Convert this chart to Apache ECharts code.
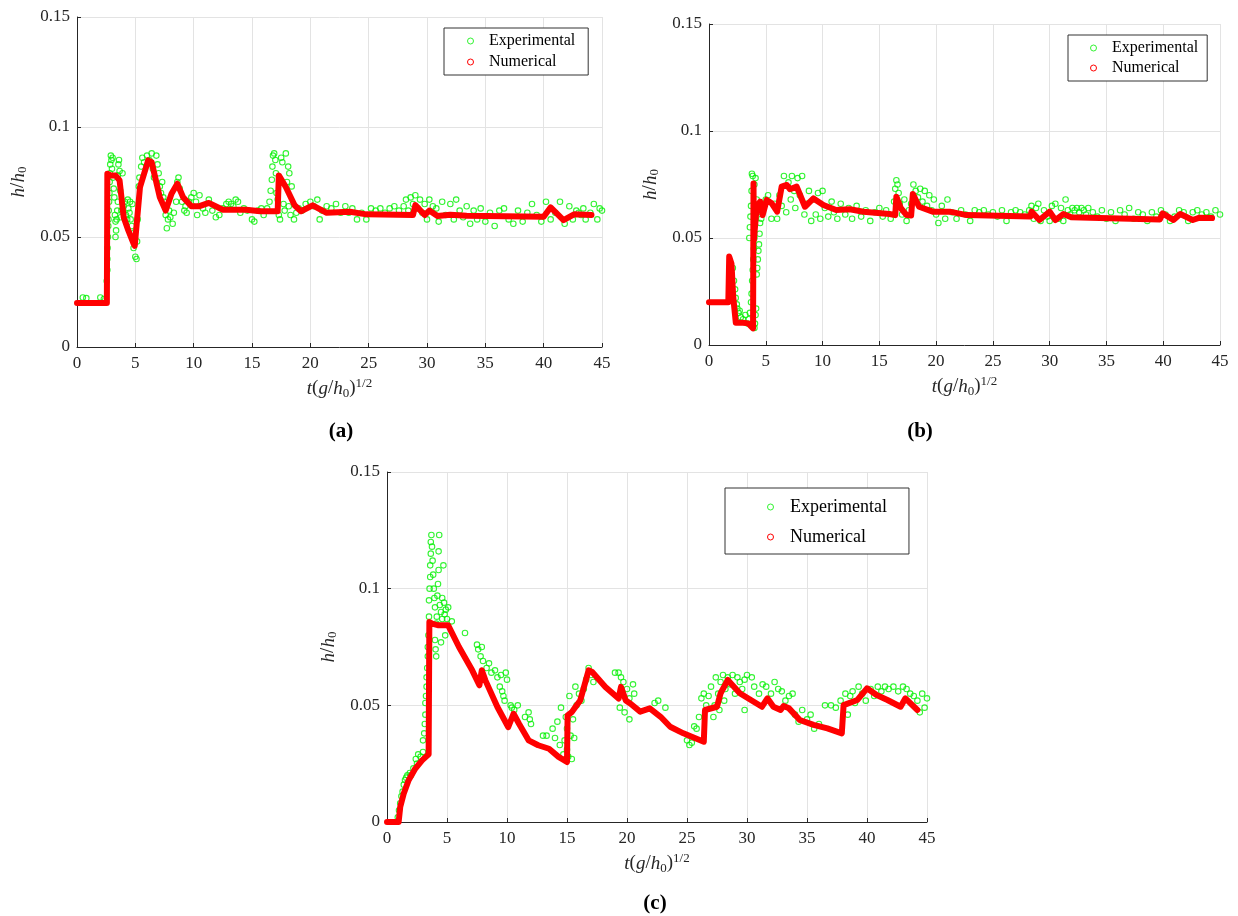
<!DOCTYPE html>
<html>
<head>
<meta charset="utf-8">
<script src="https://cdn.jsdelivr.net/npm/echarts@6/dist/echarts.min.js"></script>
<style>
  html, body { margin: 0; padding: 0; background: #fff; }
  #container { width: 1238px; height: 916px; }
</style>
</head>
<body>
<div id="container"></div>
<script>
// ---- data ----
var xTicks = [0, 5, 10, 15, 20, 25, 30, 35, 40, 45];
var yTicks = [0, 0.05, 0.1, 0.15];
var legendNames = ['Experimental', 'Numerical'];
var captions = ['(a)', '(b)', '(c)'];

// (a) numerical curve
var numA = [
  [0, 0.02], [2.56, 0.02], [2.6, 0.0788], [2.85, 0.078], [3.3, 0.078], [3.65, 0.0757],
  [4.0, 0.059], [4.4, 0.053], [4.85, 0.047], [4.95, 0.046], [5.4, 0.0727], [6.1, 0.0848],
  [6.4, 0.084], [7.1, 0.068], [7.6, 0.062], [8.1, 0.0697], [8.6, 0.0742], [9.1, 0.068],
  [9.8, 0.064], [10.5, 0.064], [11.3, 0.0655], [12.5, 0.0624], [14.5, 0.0624], [15.7, 0.0617],
  [17.2, 0.0617], [17.3, 0.078], [17.9, 0.0727], [18.65, 0.0644], [19.2, 0.0617], [20.2, 0.0644],
  [21.4, 0.061], [23.4, 0.0615], [24.8, 0.0603], [28.8, 0.06], [29.0, 0.0645], [29.8, 0.06],
  [30.2, 0.062], [30.9, 0.0595], [32.0, 0.0601], [33.4, 0.0597], [40.0, 0.0592], [40.6, 0.0635],
  [41.7, 0.0577], [42.6, 0.0603], [44.1, 0.06]
];
// (a) experimental points
var expA = [
  [0.5, 0.0225], [0.8, 0.0222], [2.0, 0.0225], [2.3, 0.0218],
  [2.55, 0.030], [2.6, 0.035], [2.6, 0.040], [2.62, 0.045], [2.65, 0.050], [2.68, 0.055], [2.7, 0.058],
  [2.72, 0.062], [2.75, 0.066], [2.78, 0.070], [2.8, 0.075], [2.82, 0.079], [2.85, 0.083], [2.9, 0.087],
  [2.95, 0.085], [3.0, 0.081], [3.05, 0.086], [3.1, 0.077], [3.15, 0.072], [3.2, 0.068], [3.25, 0.060],
  [3.3, 0.057], [3.3, 0.050], [3.35, 0.053], [3.4, 0.058], [3.45, 0.062], [3.5, 0.066], [3.5, 0.078],
  [3.55, 0.083], [3.6, 0.085], [3.65, 0.080], [3.7, 0.071], [3.75, 0.059], [3.8, 0.062], [3.9, 0.079],
  [4.0, 0.064], [4.1, 0.066], [4.2, 0.060], [4.3, 0.058], [4.35, 0.067], [4.4, 0.063], [4.5, 0.061],
  [4.55, 0.066], [4.6, 0.058], [4.7, 0.055], [4.75, 0.065], [4.8, 0.049], [4.85, 0.045], [4.9, 0.052],
  [5.0, 0.041], [5.1, 0.040], [5.15, 0.048], [5.2, 0.058], [5.3, 0.073], [5.35, 0.077], [5.5, 0.082],
  [5.6, 0.086], [5.75, 0.084], [6.0, 0.087], [6.2, 0.085], [6.4, 0.088], [6.5, 0.081], [6.6, 0.077],
  [6.8, 0.087], [6.9, 0.083], [7.0, 0.079], [7.1, 0.073], [7.2, 0.070], [7.3, 0.075], [7.4, 0.068],
  [7.5, 0.066], [7.6, 0.060], [7.7, 0.054], [7.8, 0.058], [7.9, 0.062], [8.0, 0.059], [8.2, 0.056],
  [8.3, 0.061], [8.5, 0.066], [8.6, 0.075], [8.7, 0.077], [8.8, 0.072], [9.0, 0.066], [9.2, 0.062],
  [9.3, 0.064], [9.4, 0.061], [9.6, 0.066], [9.8, 0.068], [10.0, 0.070], [10.2, 0.066], [10.3, 0.060],
  [10.5, 0.069], [10.8, 0.063], [11.0, 0.061], [11.3, 0.067], [11.6, 0.062], [11.9, 0.059], [12.2, 0.060],
  [12.5, 0.063], [12.8, 0.065], [13.0, 0.066], [13.2, 0.065], [13.4, 0.064], [13.6, 0.067], [13.8, 0.066],
  [14.0, 0.061], [14.3, 0.063], [14.6, 0.062], [15.0, 0.058], [15.2, 0.057], [15.5, 0.062], [15.8, 0.063],
  [16.0, 0.060], [16.3, 0.063], [16.5, 0.066], [16.6, 0.071], [16.7, 0.076], [16.75, 0.082], [16.8, 0.087],
  [16.9, 0.088], [17.0, 0.085], [17.05, 0.079], [17.1, 0.070], [17.2, 0.067], [17.3, 0.060], [17.4, 0.058],
  [17.5, 0.086], [17.6, 0.084], [17.7, 0.065], [17.8, 0.062], [17.9, 0.088], [18.0, 0.075], [18.1, 0.082],
  [18.15, 0.064], [18.2, 0.079], [18.3, 0.060], [18.4, 0.073], [18.6, 0.058], [18.8, 0.061], [19.0, 0.063],
  [19.3, 0.062], [19.6, 0.065], [20.0, 0.066], [20.3, 0.064], [20.6, 0.067], [20.8, 0.058], [21.0, 0.062],
  [21.4, 0.064], [21.8, 0.063], [22.2, 0.065], [22.6, 0.061], [23.0, 0.064], [23.3, 0.061], [23.6, 0.063],
  [24.0, 0.058], [24.4, 0.061], [24.8, 0.058], [25.2, 0.063], [25.6, 0.062], [26.0, 0.063], [26.4, 0.061],
  [26.8, 0.063], [27.2, 0.064], [27.6, 0.062], [28.0, 0.064], [28.2, 0.067], [28.4, 0.062], [28.6, 0.068],
  [28.8, 0.065], [29.0, 0.069], [29.2, 0.063], [29.4, 0.067], [29.6, 0.061], [29.8, 0.065], [30.0, 0.058],
  [30.2, 0.067], [30.5, 0.064], [30.8, 0.063], [31.0, 0.057], [31.3, 0.066], [31.6, 0.060], [32.0, 0.065],
  [32.3, 0.058], [32.5, 0.067], [32.8, 0.062], [33.1, 0.059], [33.4, 0.064], [33.7, 0.056], [34.0, 0.062],
  [34.3, 0.058], [34.6, 0.063], [35.0, 0.057], [35.4, 0.061], [35.8, 0.055], [36.2, 0.062], [36.6, 0.063],
  [37.0, 0.058], [37.4, 0.056], [37.8, 0.062], [38.2, 0.057], [38.6, 0.061], [39.0, 0.065], [39.4, 0.060],
  [39.8, 0.057], [40.2, 0.066], [40.6, 0.058], [41.0, 0.061], [41.4, 0.066], [41.8, 0.056], [42.2, 0.064],
  [42.5, 0.058], [42.8, 0.062], [43.0, 0.061], [43.2, 0.060], [43.4, 0.063], [43.6, 0.058], [44.0, 0.061],
  [44.3, 0.065], [44.6, 0.058], [44.8, 0.063], [45.0, 0.062]
];

// (b) numerical curve
var numB = [
  [0, 0.02], [1.7, 0.02], [1.78, 0.0413], [1.98, 0.038], [2.13, 0.0226], [2.36, 0.0104], [3.0, 0.0104],
  [3.45, 0.0101], [3.88, 0.0078], [3.92, 0.0755], [3.95, 0.049], [4.2, 0.0646], [4.5, 0.067], [4.72, 0.0607],
  [5.08, 0.0678], [5.52, 0.0662], [6.0, 0.0623], [6.4, 0.074], [6.85, 0.0748], [7.13, 0.0728], [7.72, 0.074],
  [8.45, 0.0646], [9.2, 0.0685], [10.07, 0.0654], [11.2, 0.0631], [12.4, 0.0634], [13.6, 0.0623],
  [15.9, 0.0612], [16.4, 0.0607], [16.5, 0.0693], [16.9, 0.0639], [17.4, 0.0607], [17.8, 0.0605],
  [17.95, 0.0706], [18.5, 0.0646], [19.7, 0.0623], [20.3, 0.0623], [21.2, 0.0623], [22.7, 0.0607],
  [28.3, 0.06], [28.4, 0.0623], [29.1, 0.0584], [30.0, 0.0623], [30.5, 0.0584], [31.2, 0.0612],
  [31.9, 0.0597], [33.55, 0.0595], [39.7, 0.0587], [39.95, 0.0615], [40.9, 0.0584], [41.5, 0.0612],
  [42.6, 0.0584], [43.2, 0.0595], [44.3, 0.0593]
];
// (b) experimental points
var expB = [
  [2.0, 0.033], [2.1, 0.036], [2.2, 0.030], [2.3, 0.026], [2.35, 0.022], [2.45, 0.019], [2.5, 0.017],
  [2.6, 0.015], [2.7, 0.016], [2.8, 0.013], [3.0, 0.012], [3.2, 0.014], [3.4, 0.010], [3.5, 0.012],
  [3.6, 0.015], [3.7, 0.020], [3.75, 0.024], [3.8, 0.030], [3.85, 0.035], [3.9, 0.040], [3.95, 0.045],
  [4.0, 0.050], [4.0, 0.008], [4.05, 0.010], [4.1, 0.014], [4.15, 0.017], [4.2, 0.033], [4.25, 0.036],
  [4.3, 0.040], [4.35, 0.044], [4.4, 0.047], [4.45, 0.052], [4.5, 0.057], [3.55, 0.050], [3.6, 0.055],
  [3.65, 0.060], [3.7, 0.065], [3.75, 0.072], [3.78, 0.080], [3.85, 0.079], [4.0, 0.075], [4.1, 0.078],
  [4.2, 0.068], [4.3, 0.062], [4.6, 0.059], [4.8, 0.064], [5.0, 0.068], [5.2, 0.070], [5.5, 0.059],
  [5.8, 0.066], [6.0, 0.059], [6.2, 0.070], [6.4, 0.065], [6.6, 0.079], [6.8, 0.062], [7.0, 0.076],
  [7.2, 0.068], [7.3, 0.079], [7.5, 0.072], [7.6, 0.064], [7.8, 0.078], [8.0, 0.070], [8.2, 0.079],
  [8.4, 0.061], [8.6, 0.066], [8.8, 0.072], [9.0, 0.058], [9.2, 0.068], [9.4, 0.061], [9.6, 0.071],
  [9.8, 0.059], [10.0, 0.072], [10.2, 0.064], [10.5, 0.060], [10.8, 0.067], [11.0, 0.062], [11.3, 0.059],
  [11.6, 0.066], [12.0, 0.061], [12.3, 0.064], [12.6, 0.059], [13.0, 0.065], [13.4, 0.060], [13.8, 0.063],
  [14.2, 0.058], [14.6, 0.062], [15.0, 0.064], [15.3, 0.060], [15.6, 0.063], [16.0, 0.059], [16.3, 0.067],
  [16.4, 0.073], [16.5, 0.077], [16.6, 0.075], [16.7, 0.071], [16.8, 0.066], [17.0, 0.061], [17.2, 0.068],
  [17.4, 0.058], [17.6, 0.063], [17.8, 0.066], [18.0, 0.075], [18.2, 0.072], [18.4, 0.069], [18.6, 0.073],
  [18.8, 0.067], [19.0, 0.072], [19.2, 0.065], [19.4, 0.070], [19.6, 0.063], [19.8, 0.068], [20.0, 0.061],
  [20.2, 0.057], [20.5, 0.065], [20.8, 0.059], [21.0, 0.068], [21.4, 0.062], [21.8, 0.059], [22.2, 0.063],
  [22.6, 0.061], [23.0, 0.058], [23.4, 0.063], [23.8, 0.062], [24.2, 0.063], [24.6, 0.061], [25.0, 0.062],
  [25.4, 0.060], [25.8, 0.063], [26.2, 0.058], [26.6, 0.062], [27.0, 0.063], [27.4, 0.062], [27.8, 0.061],
  [28.2, 0.063], [28.4, 0.065], [28.6, 0.059], [28.8, 0.064], [29.0, 0.066], [29.2, 0.058], [29.5, 0.063],
  [29.8, 0.060], [30.0, 0.058], [30.2, 0.065], [30.5, 0.066], [30.8, 0.059], [31.0, 0.064], [31.2, 0.058],
  [31.4, 0.068], [31.6, 0.063], [31.8, 0.061], [32.0, 0.064], [32.2, 0.063], [32.4, 0.064], [32.6, 0.062],
  [32.8, 0.064], [33.0, 0.063], [33.2, 0.061], [33.4, 0.064], [33.8, 0.062], [34.2, 0.060], [34.6, 0.063],
  [35.0, 0.059], [35.4, 0.062], [35.8, 0.058], [36.2, 0.063], [36.6, 0.061], [37.0, 0.064], [37.4, 0.059],
  [37.8, 0.062], [38.2, 0.061], [38.6, 0.058], [39.0, 0.062], [39.4, 0.060], [39.8, 0.063], [40.2, 0.061],
  [40.6, 0.058], [41.0, 0.060], [41.4, 0.063], [41.8, 0.062], [42.2, 0.058], [42.6, 0.062], [43.0, 0.063],
  [43.4, 0.061], [43.8, 0.062], [44.2, 0.060], [44.6, 0.063], [45.0, 0.061]
];

// (c) numerical curve
var numC = [
  [0, 0], [0.97, 0], [1.1, 0.0064], [1.39, 0.0121], [1.8, 0.0179], [2.36, 0.0229], [2.92, 0.0264],
  [3.47, 0.029], [3.53, 0.0857], [3.75, 0.085], [4.3, 0.0843], [5.1, 0.0843], [6.0, 0.075], [7.1, 0.065],
  [7.7, 0.0586], [7.9, 0.065], [8.2, 0.0607], [9.2, 0.0493], [10.1, 0.0407], [10.55, 0.0464], [11.0, 0.0421],
  [11.8, 0.035], [12.6, 0.0329], [13.5, 0.0314], [14.3, 0.0279], [15.0, 0.0257], [15.05, 0.0457],
  [15.4, 0.0471], [15.7, 0.0493], [16.1, 0.0521], [16.8, 0.065], [17.1, 0.0643], [18.2, 0.0579],
  [19.3, 0.0529], [19.5, 0.0579], [19.9, 0.0521], [20.3, 0.0507], [21.1, 0.0473], [21.9, 0.0487],
  [22.8, 0.0451], [23.6, 0.0408], [24.7, 0.038], [26.4, 0.0344], [26.5, 0.048], [27.5, 0.0494],
  [27.8, 0.0552], [28.4, 0.0609], [29.4, 0.0552], [31.25, 0.0494], [31.7, 0.053], [32.2, 0.0494],
  [32.8, 0.048], [33.05, 0.0497], [33.5, 0.0487], [34.4, 0.0437], [35.55, 0.0416], [36.7, 0.0401],
  [37.9, 0.038], [38.05, 0.0501], [39.2, 0.0523], [40.0, 0.0573], [40.8, 0.0544], [41.7, 0.0523],
  [42.8, 0.0494], [43.2, 0.053], [44.2, 0.048]
];
// (c) experimental points
var expC = [
  [0.9, 0.002], [1.0, 0.005], [1.1, 0.008], [1.2, 0.011], [1.3, 0.013], [1.4, 0.016], [1.5, 0.018],
  [1.6, 0.019], [1.7, 0.020], [1.9, 0.021], [2.0, 0.020], [2.2, 0.023], [2.4, 0.027], [2.5, 0.025],
  [2.6, 0.029], [2.8, 0.028], [3.0, 0.030], [3.0, 0.035], [3.1, 0.038], [3.15, 0.042], [3.2, 0.046],
  [3.2, 0.051], [3.25, 0.054], [3.3, 0.058], [3.3, 0.062], [3.35, 0.066], [3.4, 0.071], [3.4, 0.075],
  [3.45, 0.080], [3.5, 0.088], [3.5, 0.095], [3.55, 0.100], [3.6, 0.105], [3.6, 0.110], [3.65, 0.115],
  [3.65, 0.120], [3.7, 0.123], [3.75, 0.118], [3.8, 0.112], [3.85, 0.106], [3.9, 0.100], [3.95, 0.096],
  [4.0, 0.092], [4.0, 0.078], [4.05, 0.074], [4.1, 0.071], [4.1, 0.085], [4.15, 0.088], [4.2, 0.097],
  [4.25, 0.102], [4.3, 0.108], [4.3, 0.116], [4.35, 0.123], [4.4, 0.093], [4.5, 0.090], [4.5, 0.077],
  [4.6, 0.087], [4.6, 0.096], [4.7, 0.110], [4.75, 0.094], [4.8, 0.089], [4.85, 0.080], [4.9, 0.091],
  [5.0, 0.087], [5.1, 0.092], [5.4, 0.086], [6.5, 0.081], [7.5, 0.076], [7.6, 0.074], [7.8, 0.071],
  [7.9, 0.075], [8.0, 0.069], [8.3, 0.066], [8.5, 0.068], [8.7, 0.064], [9.0, 0.065], [9.2, 0.062],
  [9.4, 0.058], [9.5, 0.063], [9.6, 0.056], [9.7, 0.054], [9.8, 0.052], [9.9, 0.064], [10.0, 0.061],
  [10.3, 0.050], [10.4, 0.049], [10.6, 0.048], [10.9, 0.050], [11.5, 0.045], [11.8, 0.047], [11.9, 0.044],
  [12.0, 0.042], [13.0, 0.037], [13.3, 0.037], [13.8, 0.040], [14.0, 0.036], [14.2, 0.043], [14.4, 0.033],
  [14.5, 0.049], [14.7, 0.029], [14.8, 0.035], [14.9, 0.045], [15.0, 0.031], [15.0, 0.040], [15.1, 0.028],
  [15.2, 0.054], [15.3, 0.037], [15.4, 0.027], [15.5, 0.044], [15.6, 0.036], [15.7, 0.058], [15.8, 0.050],
  [16.0, 0.055], [16.2, 0.052], [16.4, 0.057], [16.6, 0.061], [16.8, 0.066], [17.0, 0.063], [17.2, 0.060],
  [19.0, 0.064], [19.3, 0.064], [19.5, 0.062], [19.7, 0.060], [19.4, 0.049], [19.8, 0.047], [20.0, 0.057],
  [20.2, 0.053], [20.5, 0.059], [20.6, 0.055], [20.2, 0.044], [22.3, 0.051], [22.6, 0.052], [23.2, 0.049],
  [25.0, 0.035], [25.2, 0.033], [25.4, 0.034], [25.6, 0.041], [25.8, 0.040], [26.0, 0.045], [26.2, 0.053],
  [26.4, 0.055], [26.6, 0.050], [26.8, 0.054], [27.0, 0.058], [27.2, 0.045], [27.3, 0.050], [27.4, 0.062],
  [27.6, 0.055], [27.7, 0.048], [27.8, 0.060], [28.0, 0.063], [28.1, 0.052], [28.2, 0.057], [28.4, 0.062],
  [28.6, 0.059], [28.8, 0.063], [29.0, 0.055], [29.2, 0.062], [29.4, 0.060], [29.6, 0.057], [29.8, 0.061],
  [30.0, 0.063], [29.8, 0.048], [30.4, 0.062], [30.6, 0.058], [31.0, 0.055], [31.3, 0.059], [31.6, 0.058],
  [32.0, 0.055], [32.3, 0.060], [32.6, 0.057], [32.9, 0.056], [33.2, 0.052], [33.5, 0.054], [33.8, 0.055],
  [34.0, 0.046], [34.3, 0.043], [34.6, 0.048], [35.0, 0.044], [35.3, 0.046], [35.6, 0.040], [36.0, 0.042],
  [36.5, 0.050], [37.0, 0.050], [37.4, 0.049], [37.8, 0.052], [38.2, 0.055], [38.4, 0.046], [38.6, 0.054],
  [38.8, 0.056], [39.0, 0.051], [39.3, 0.058], [39.6, 0.055], [39.9, 0.052], [40.3, 0.057], [40.6, 0.054],
  [40.9, 0.058], [41.2, 0.056], [41.5, 0.058], [41.8, 0.057], [42.2, 0.058], [42.6, 0.056], [43.0, 0.058],
  [43.3, 0.057], [43.6, 0.055], [43.9, 0.054], [44.2, 0.052], [44.4, 0.047], [44.6, 0.055], [44.8, 0.049],
  [45.0, 0.053]
];

var expSets = [expA, expB, expC];
var numSets = [numA, numB, numC];

// ---- layout ----
var serif = '"Liberation Serif", "Times New Roman", serif';
var grids = [
  { left: 77, top: 17, width: 525, height: 330 },
  { left: 709, top: 24, width: 511, height: 321 },
  { left: 387, top: 472, width: 540, height: 350 }
];
var legendPos = [
  { left: 444, top: 28, gap: 5, font: 16, w: 17, pad: [5, 13, 5, 23] },
  { left: 1068, top: 35, gap: 4, font: 16, w: 17, pad: [5, 9, 5, 22] },
  { left: 725, top: 488, gap: 12, font: 18, w: 19, pad: [10, 22, 8, 42] }
];
var captionPos = [[341, 432], [920, 432], [655, 904]];

var axisColor = '#262626';
var richName = {
  it: { fontFamily: serif, fontStyle: 'italic', fontSize: 19, color: axisColor },
  n: { fontFamily: serif, fontSize: 19, color: axisColor },
  sub: { fontFamily: serif, fontSize: 13, color: axisColor, verticalAlign: 'bottom', padding: [8, 0, 0, 0] },
  sup: { fontFamily: serif, fontSize: 13, color: axisColor, verticalAlign: 'top', padding: [0, 0, 10, 0] }
};

var xAxes = [], yAxes = [], series = [], legends = [], graphics = [];
grids.forEach(function (g, i) {
  xAxes.push({
    gridIndex: i, type: 'value', min: xTicks[0], max: xTicks[xTicks.length - 1], interval: 5,
    name: '{it|t}{n|(}{it|g}{n|/}{it|h}{sub|0}{n|)}{sup|1/2}',
    nameLocation: 'middle', nameGap: 30,
    nameTextStyle: { rich: richName },
    axisLine: { lineStyle: { color: axisColor, width: 1 } },
    axisTick: { inside: true, length: 4, lineStyle: { color: axisColor } },
    axisLabel: { color: axisColor, fontFamily: serif, fontSize: 17, margin: 8 },
    splitLine: { show: true, lineStyle: { color: '#e3e3e3', width: 1 } }
  });
  yAxes.push({
    gridIndex: i, type: 'value', min: yTicks[0], max: yTicks[yTicks.length - 1], interval: 0.05,
    name: '{it|h}{n|/}{it|h}{sub|0}',
    nameLocation: 'middle', nameGap: 48, nameRotate: 90,
    nameTextStyle: { rich: richName },
    axisLine: { show: true, lineStyle: { color: axisColor, width: 1 } },
    axisTick: { show: true, inside: true, length: 4, lineStyle: { color: axisColor } },
    axisLabel: { color: axisColor, fontFamily: serif, fontSize: 17, margin: 7 },
    splitLine: { show: true, lineStyle: { color: '#e3e3e3', width: 1 } }
  });
  series.push({
    name: legendNames[0], type: 'scatter', xAxisIndex: i, yAxisIndex: i,
    data: expSets[i], symbol: 'circle', symbolSize: 5.5, z: 2,
    itemStyle: { color: 'rgba(255,255,255,0)', borderColor: '#00f000', borderWidth: 1.1 }
  });
  series.push({
    name: legendNames[1], type: 'line', xAxisIndex: i, yAxisIndex: i,
    data: numSets[i], showSymbol: false, symbol: 'circle', z: 3,
    lineStyle: { color: '#ff0000', width: 6, join: 'round', cap: 'round' },
    itemStyle: { color: '#ff0000' }
  });
  var lp = legendPos[i];
  legends.push({
    left: lp.left, top: lp.top, orient: 'vertical', itemGap: lp.gap,
    padding: lp.pad, borderColor: '#333', borderWidth: 1, backgroundColor: '#fff',
    itemWidth: lp.w, itemHeight: 6, symbolKeepAspect: true, selectedMode: false,
    textStyle: { fontFamily: serif, fontSize: lp.font, color: '#000', padding: [0, 0, 0, 5] },
    data: [
      { name: legendNames[0], icon: 'circle', itemStyle: { color: '#fff', borderColor: '#00f000', borderWidth: 1 } },
      { name: legendNames[1], icon: 'circle', itemStyle: { color: '#fff', borderColor: '#ff0000', borderWidth: 1 } }
    ]
  });
  graphics.push({
    type: 'text', x: captionPos[i][0], y: captionPos[i][1],
    style: {
      text: captions[i], font: 'bold 21px ' + serif, fill: '#000',
      textAlign: 'center', textVerticalAlign: 'middle'
    }
  });
});

var dom = document.getElementById('container');
var myChart = echarts.init(dom, null, { renderer: 'canvas' });
var option = {
  backgroundColor: '#fff',
  animation: false,
  grid: grids,
  xAxis: xAxes,
  yAxis: yAxes,
  legend: legends,
  series: series,
  graphic: graphics
};
myChart.setOption(option);
window.addEventListener('resize', myChart.resize);
</script>
</body>
</html>
